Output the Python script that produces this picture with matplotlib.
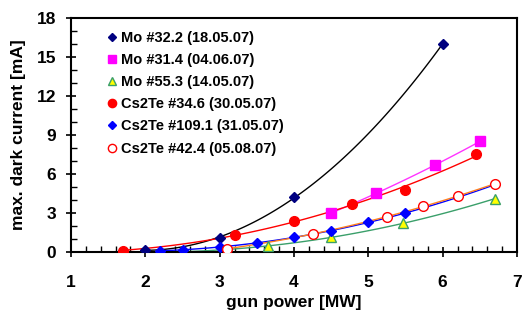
import matplotlib
matplotlib.use("Agg")
import matplotlib.pyplot as plt
from matplotlib.ticker import MultipleLocator
import numpy as np

plt.rcParams['font.family'] = ['Liberation Sans', 'DejaVu Sans']
plt.rcParams['font.weight'] = 'bold'

# data
mo322_x = [2.0, 3.0, 4.0, 6.0]
mo322_y = [0.15, 1.1, 4.2, 16.0]

mo314_x = [4.5, 5.1, 5.9, 6.5]
mo314_y = [3.0, 4.5, 6.7, 8.5]

mo553_x = [2.2, 3.65, 4.5, 5.47, 6.7]
mo553_y = [0.0, 0.45, 1.15, 2.2, 4.1]

cs346_x = [1.7, 3.2, 4.0, 4.78, 5.5, 6.45]
cs346_y = [0.1, 1.3, 2.4, 3.7, 4.8, 7.5]

cs1091_x = [2.2, 2.5, 3.0, 3.5, 4.0, 4.5, 5.0, 5.5]
cs1091_y = [0.1, 0.15, 0.4, 0.7, 1.15, 1.6, 2.3, 3.0]

cs424_x = [3.1, 4.25, 5.25, 5.73, 6.2, 6.7]
cs424_y = [0.25, 1.4, 2.7, 3.5, 4.3, 5.25]

fig = plt.figure(figsize=(5.23, 3.15), dpi=100)
ax = fig.add_axes([0.1358, 0.2, 0.8527, 0.743])


def trend(x, y, x0, x1, color, deg=2):
    p = np.polyfit(x, y, deg)
    xx = np.linspace(x0, x1, 100)
    ax.plot(xx, np.polyval(p, xx), color=color, lw=1.0, zorder=2)


trend(mo322_x, mo322_y, 2.0, 6.0, 'black')
trend(mo314_x, mo314_y, 4.5, 6.5, '#ff33ff')
trend(mo553_x, mo553_y, 2.0, 6.72, '#3a9f6a')
trend(cs346_x, cs346_y, 1.7, 6.45, 'red')
trend(cs1091_x, cs1091_y, 2.2, 6.75, 'blue')
trend(cs424_x, cs424_y, 3.0, 6.7, '#ff8020')

ax.plot(mo322_x, mo322_y, ls='none', marker='D', ms=5, color='#000080',
        label='Mo #32.2 (18.05.07)', zorder=3)
ax.plot(mo314_x, mo314_y, ls='none', marker='s', ms=6.5, color='#ff00ff',
        label='Mo #31.4 (04.06.07)', zorder=3)
ax.plot(mo553_x, mo553_y, ls='none', marker='^', ms=7, mfc='#ffff00',
        mec='#3a9f6a', mew=1.0, label='Mo #55.3 (14.05.07)', zorder=3)
ax.plot(cs346_x, cs346_y, ls='none', marker='o', ms=7, color='#ff0000',
        label='Cs2Te #34.6 (30.05.07)', zorder=3)
ax.plot(cs1091_x, cs1091_y, ls='none', marker='D', ms=5, color='#0000ff',
        label='Cs2Te #109.1 (31.05.07)', zorder=3)
ax.plot(cs424_x, cs424_y, ls='none', marker='o', ms=7, mfc='white',
        mec='#ff0000', mew=1.0, label='Cs2Te #42.4 (05.08.07)', zorder=3)

ax.set_xlim(1, 7)
ax.set_ylim(0, 18)
ax.xaxis.set_major_locator(MultipleLocator(1))
ax.xaxis.set_minor_locator(MultipleLocator(0.2))
ax.yaxis.set_major_locator(MultipleLocator(3))
ax.yaxis.set_minor_locator(MultipleLocator(1))
ax.tick_params(which='major', direction='inout', length=7, width=1.2,
               labelsize=12.5)
ax.tick_params(axis='x', which='major', pad=13)
ax.tick_params(axis='y', which='major', pad=7)
ax.tick_params(which='minor', direction='in', length=4, width=1.0)
for s in ax.spines.values():
    s.set_linewidth(1.5)

ax.set_xlabel('gun power [MW]', fontsize=12.5, fontweight='bold', labelpad=4)
ax.set_ylabel('max. dark current [mA]', fontsize=12.5, fontweight='bold', labelpad=8)

ax.legend(loc='upper left', frameon=False, handletextpad=0.25,
          handlelength=0.8, labelspacing=0.56, borderaxespad=0.0,
          bbox_to_anchor=(0.065, 0.97), markerscale=0.85,
          prop={'weight': 'bold', 'size': 10.5})

fig.savefig('out.png', dpi=100)
